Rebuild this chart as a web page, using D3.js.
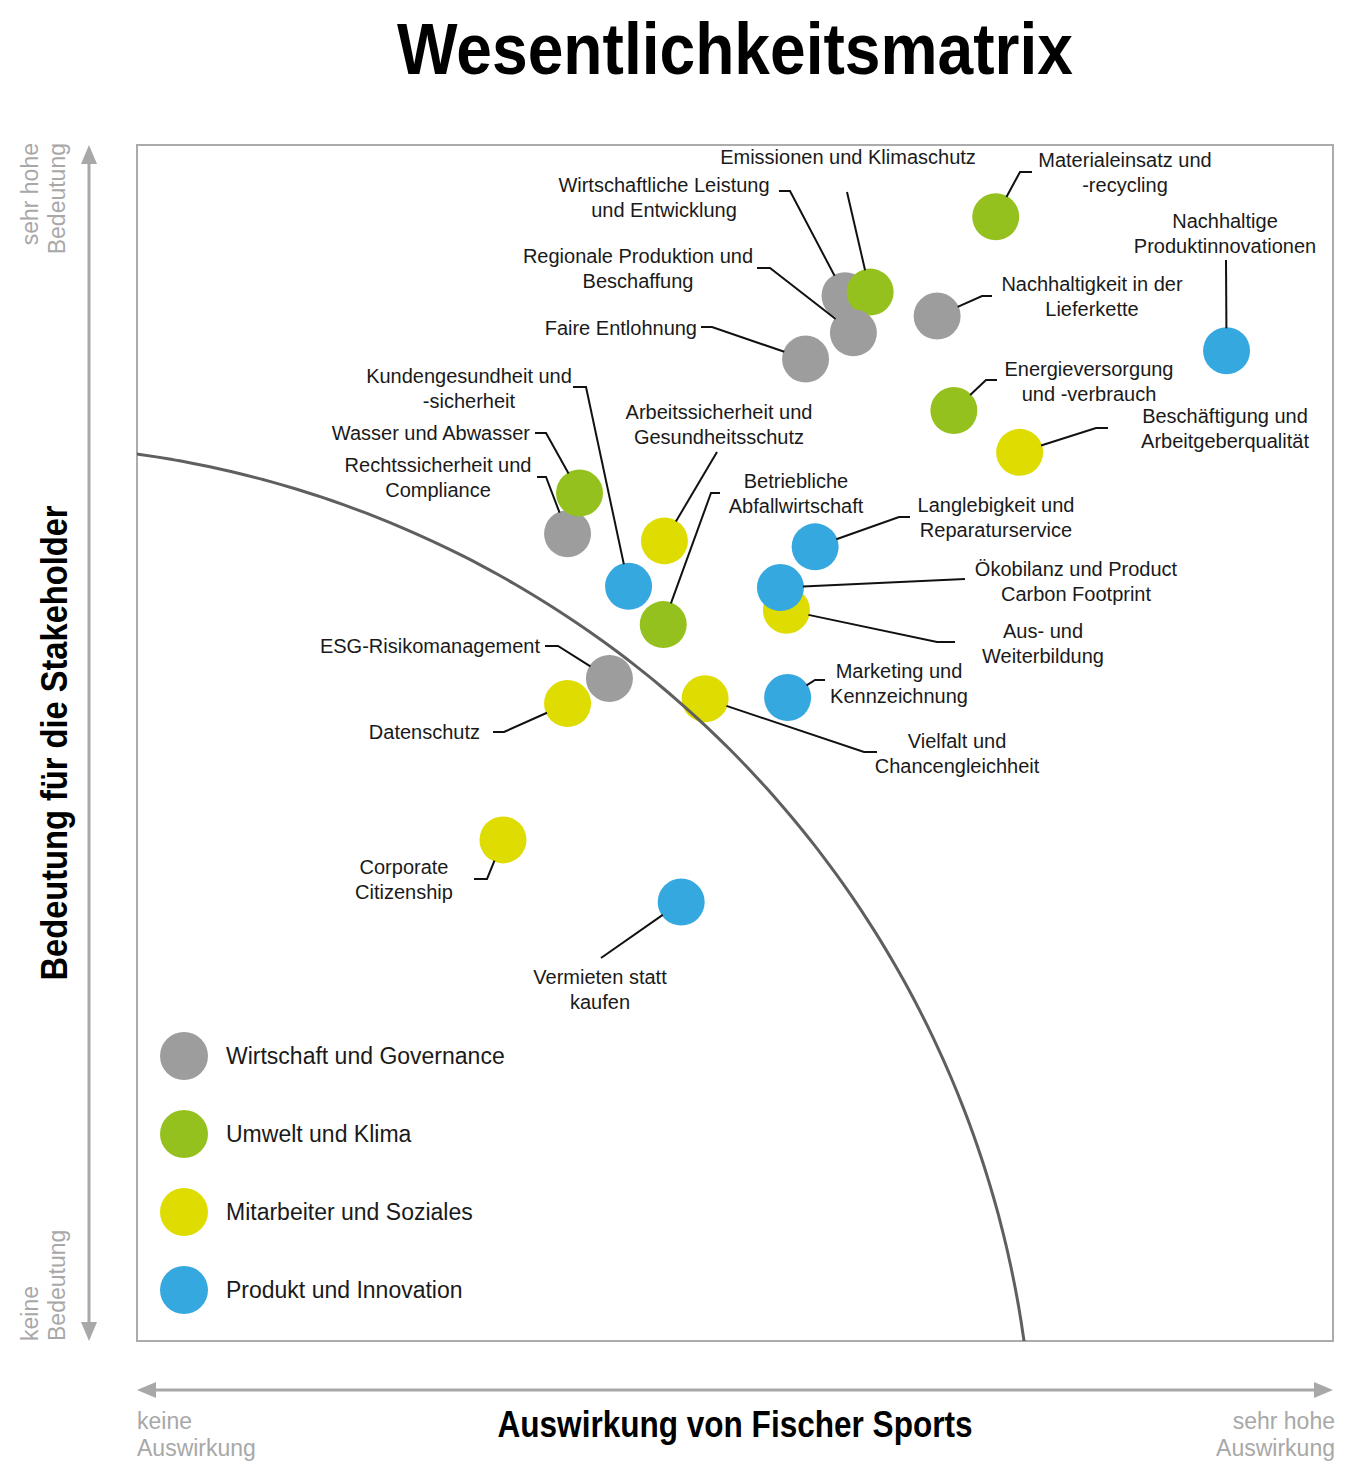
<!DOCTYPE html>
<html>
<head>
<meta charset="utf-8">
<script src="https://cdn.jsdelivr.net/npm/d3@7"></script>
<style>
  body { margin: 0; background: #fff; }
  svg { display: block; }
  .lbl { font-family: "Liberation Sans", Arial, sans-serif; font-size: 20px; fill: #1a1a1a; }
  .cond { font-family: "Liberation Sans", Arial, sans-serif; font-weight: bold; fill: #000; }
  .hint { font-family: "Liberation Sans", Arial, sans-serif; font-size: 23px; fill: #a8a8a8; }
</style>
</head>
<body>
<div id="matrix"></div>
<script>
// Topics (label lines), in drawing order: later ones sit on top
var topics = [
    ['Materialeinsatz und', '-recycling'],
    ['Wirtschaftliche Leistung', 'und Entwicklung'],
    ['Emissionen und Klimaschutz'],
    ['Regionale Produktion und', 'Beschaffung'],
    ['Faire Entlohnung'],
    ['Nachhaltigkeit in der', 'Lieferkette'],
    ['Nachhaltige', 'Produktinnovationen'],
    ['Energieversorgung', 'und -verbrauch'],
    ['Beschäftigung und', 'Arbeitgeberqualität'],
    ['Rechtssicherheit und', 'Compliance'],
    ['Wasser und Abwasser'],
    ['Arbeitssicherheit und', 'Gesundheitsschutz'],
    ['Kundengesundheit und', '-sicherheit'],
    ['Betriebliche', 'Abfallwirtschaft'],
    ['Langlebigkeit und', 'Reparaturservice'],
    ['Aus- und', 'Weiterbildung'],
    ['Ökobilanz und Product', 'Carbon Footprint'],
    ['ESG-Risikomanagement'],
    ['Datenschutz'],
    ['Vielfalt und', 'Chancengleichheit'],
    ['Marketing und', 'Kennzeichnung'],
    ['Corporate', 'Citizenship'],
    ['Vermieten statt', 'kaufen']
];

// Auswirkung von Fischer Sports (0 = keine, 10 = sehr hohe)
var impact = [7.18, 5.92, 6.13, 5.99, 5.59, 6.69, 9.11, 6.83, 7.38, 3.60, 3.70,
              4.41, 4.11, 4.40, 5.67, 5.43, 5.38, 3.95, 3.60, 4.75, 5.44, 3.06, 4.55];

// Bedeutung für die Stakeholder (0 = keine, 10 = sehr hohe)
var relevance = [9.40, 8.74, 8.77, 8.43, 8.21, 8.57, 8.28, 7.78, 7.43, 6.75, 7.09,
                 6.69, 6.31, 5.99, 6.64, 6.11, 6.30, 5.54, 5.33, 5.37, 5.38, 4.19, 3.67];

// 0 Wirtschaft, 1 Umwelt, 2 Mitarbeiter, 3 Produkt
var cluster = [1, 0, 1, 0, 0, 0, 3, 1, 2, 0, 1,
               2, 3, 1, 3, 2, 3, 0, 2, 2, 3, 2, 3];

var categories = ['Wirtschaft und Governance',
                  'Umwelt und Klima',
                  'Mitarbeiter und Soziales',
                  'Produkt und Innovation'];

var colors = ['#9d9d9d', '#95c11f', '#dedc00', '#35a8e0'];

// Materiality threshold: circle arc in data units
var thresholdCenter = [-1.2, -1.2],
    thresholdRadius = 8.7;

// Label placement (pixels): text anchor point + leader elbow points
var labelLayout = [
    {x: 1125, y: 160, anchor: 'middle', leader: [[1032, 172], [1020, 172]]},
    {x: 664,  y: 185, anchor: 'middle', leader: [[779, 191], [790, 191]]},
    {x: 848,  y: 157, anchor: 'middle', leader: [[847, 192]]},
    {x: 638,  y: 256, anchor: 'middle', leader: [[757, 268], [770, 268]]},
    {x: 697,  y: 328, anchor: 'end',    leader: [[701, 327], [712, 327]]},
    {x: 1092, y: 284, anchor: 'middle', leader: [[992, 296], [982, 296]]},
    {x: 1225, y: 221, anchor: 'middle', leader: [[1226, 260]]},
    {x: 1089, y: 369, anchor: 'middle', leader: [[997, 380], [986, 380]]},
    {x: 1225, y: 416, anchor: 'middle', leader: [[1108, 428], [1096, 428]]},
    {x: 438,  y: 465, anchor: 'middle', leader: [[537, 477], [546, 477]]},
    {x: 530,  y: 433, anchor: 'end',    leader: [[535, 433], [546, 433]]},
    {x: 719,  y: 412, anchor: 'middle', leader: [[717, 452]]},
    {x: 469,  y: 376, anchor: 'middle', leader: [[573, 387], [586, 387]]},
    {x: 796,  y: 481, anchor: 'middle', leader: [[720, 493], [711, 493]]},
    {x: 996,  y: 505, anchor: 'middle', leader: [[910, 517], [899, 517]]},
    {x: 1043, y: 631, anchor: 'middle', leader: [[955, 642], [937, 642]]},
    {x: 1076, y: 569, anchor: 'middle', leader: [[965, 579]]},
    {x: 540,  y: 646, anchor: 'end',    leader: [[545, 646], [558, 646]]},
    {x: 480,  y: 732, anchor: 'end',    leader: [[493, 732], [504, 732]]},
    {x: 957,  y: 741, anchor: 'middle', leader: [[877, 752], [864, 752]]},
    {x: 899,  y: 671, anchor: 'middle', leader: [[825, 680], [815, 680]]},
    {x: 404,  y: 867, anchor: 'middle', leader: [[474, 879], [487, 879]]},
    {x: 600,  y: 977, anchor: 'middle', leader: [[601, 958]]}
];

// NB: "top" is reserved on window, hence the plot* names
var width = 1351,
    height = 1473,
    plotLeft = 137, plotRight = 1333, plotTop = 145, plotBottom = 1341,
    dotRadius = 23.5,
    lineHeight = 25,
    hintGrey = '#a8a8a8';

var x = d3.scaleLinear().domain([0, 10]).range([plotLeft, plotRight]);
var y = d3.scaleLinear().domain([0, 10]).range([plotBottom, plotTop]);

var svg = d3.select('#matrix').append('svg')
    .attr('width', width)
    .attr('height', height);

// Title (squeezed to mimic a condensed face)
svg.append('text')
    .attr('class', 'cond')
    .attr('x', 735)
    .attr('y', 74)
    .attr('text-anchor', 'middle')
    .attr('textLength', 676)
    .attr('lengthAdjust', 'spacingAndGlyphs')
    .style('font-size', '72px')
    .text('Wesentlichkeitsmatrix');

// Frame
svg.append('rect')
    .attr('x', plotLeft).attr('y', plotTop)
    .attr('width', plotRight - plotLeft).attr('height', plotBottom - plotTop)
    .attr('fill', 'none')
    .attr('stroke', '#ababab')
    .attr('stroke-width', 2);

// Axis arrows
var arrows = svg.append('g').attr('fill', hintGrey).attr('stroke', hintGrey);
arrows.append('line')
    .attr('x1', 89).attr('x2', 89)
    .attr('y1', plotTop + 10).attr('y2', plotBottom - 10)
    .attr('stroke-width', 3);
arrows.append('path').attr('stroke', 'none')
    .attr('d', 'M89,' + plotTop + 'l-8,19h16z');
arrows.append('path').attr('stroke', 'none')
    .attr('d', 'M89,' + plotBottom + 'l-8,-19h16z');
arrows.append('line')
    .attr('x1', plotLeft + 10).attr('x2', plotRight - 10)
    .attr('y1', 1390).attr('y2', 1390)
    .attr('stroke-width', 3);
arrows.append('path').attr('stroke', 'none')
    .attr('d', 'M' + plotLeft + ',1390l19,-8v16z');
arrows.append('path').attr('stroke', 'none')
    .attr('d', 'M' + plotRight + ',1390l-19,-8v16z');

// Axis titles
svg.append('text')
    .attr('class', 'cond')
    .attr('transform', 'translate(67,' + (plotTop + plotBottom) / 2 + ') rotate(-90)')
    .attr('text-anchor', 'middle')
    .attr('textLength', 475)
    .attr('lengthAdjust', 'spacingAndGlyphs')
    .style('font-size', '37px')
    .text('Bedeutung für die Stakeholder');

svg.append('text')
    .attr('class', 'cond')
    .attr('x', 735)
    .attr('y', 1437)
    .attr('text-anchor', 'middle')
    .attr('textLength', 475)
    .attr('lengthAdjust', 'spacingAndGlyphs')
    .style('font-size', '37px')
    .text('Auswirkung von Fischer Sports');

// Scale end hints
function hint(lines, px, py, anchor, rotate) {
    var t = svg.append('text')
        .attr('class', 'hint')
        .attr('text-anchor', anchor)
        .attr('transform', 'translate(' + px + ',' + py + ')' + (rotate ? ' rotate(-90)' : ''));
    lines.forEach(function(s, i) {
        t.append('tspan').attr('x', 0).attr('y', i * 27).text(s);
    });
}
hint(['sehr hohe', 'Bedeutung'], 38, plotTop - 2, 'end', true);
hint(['keine', 'Bedeutung'], 38, plotBottom, 'start', true);
hint(['keine', 'Auswirkung'], plotLeft, 1429, 'start', false);
hint(['sehr hohe', 'Auswirkung'], plotRight + 2, 1429, 'end', false);

// Dots
var index = d3.range(topics.length);
svg.append('g').selectAll('circle').data(index).enter()
    .append('circle')
    .attr('cx', function(d) { return x(impact[d]); })
    .attr('cy', function(d) { return y(relevance[d]); })
    .attr('r', dotRadius)
    .attr('fill', function(d) { return colors[cluster[d]]; });

// Threshold curve, clipped to the frame
svg.append('clipPath').attr('id', 'frame-clip')
    .append('rect')
    .attr('x', plotLeft).attr('y', plotTop)
    .attr('width', plotRight - plotLeft).attr('height', plotBottom - plotTop);

var arc = d3.range(0, 91, 1).map(function(a) {
    var t = a * Math.PI / 180;
    return [thresholdCenter[0] + thresholdRadius * Math.cos(t),
            thresholdCenter[1] + thresholdRadius * Math.sin(t)];
});
svg.append('path')
    .datum(arc)
    .attr('clip-path', 'url(#frame-clip)')
    .attr('fill', 'none')
    .attr('stroke', '#5f5f5f')
    .attr('stroke-width', 3)
    .attr('d', d3.line()
        .x(function(p) { return x(p[0]); })
        .y(function(p) { return y(p[1]); })
        .curve(d3.curveBasis));

// Leader lines: from label, via elbows, to the dot's edge
svg.append('g').selectAll('path').data(index).enter()
    .append('path')
    .attr('fill', 'none')
    .attr('stroke', '#111')
    .attr('stroke-width', 2)
    .attr('d', function(d) {
        var pts = labelLayout[d].leader.slice(),
            cx = x(impact[d]),
            cy = y(relevance[d]),
            last = pts[pts.length - 1],
            dx = cx - last[0],
            dy = cy - last[1],
            dist = Math.sqrt(dx * dx + dy * dy);
        pts.push([cx - dx / dist * (dotRadius - 1), cy - dy / dist * (dotRadius - 1)]);
        return d3.line()(pts);
    });

// Labels
var labels = svg.append('g').selectAll('text').data(index).enter()
    .append('text')
    .attr('class', 'lbl')
    .attr('text-anchor', function(d) { return labelLayout[d].anchor; });
labels.each(function(d) {
    var t = d3.select(this);
    topics[d].forEach(function(s, i) {
        t.append('tspan')
            .attr('x', labelLayout[d].x)
            .attr('y', labelLayout[d].y + 7 + i * lineHeight)
            .text(s);
    });
});

// Legend
var legend = svg.append('g').selectAll('g').data(categories).enter()
    .append('g')
    .attr('transform', function(d, i) { return 'translate(184,' + (1056 + i * 78) + ')'; });
legend.append('circle')
    .attr('r', 24)
    .attr('fill', function(d, i) { return colors[i]; });
legend.append('text')
    .attr('class', 'lbl')
    .attr('x', 42)
    .attr('y', 8)
    .style('font-size', '23px')
    .text(function(d) { return d; });
</script>
</body>
</html>
